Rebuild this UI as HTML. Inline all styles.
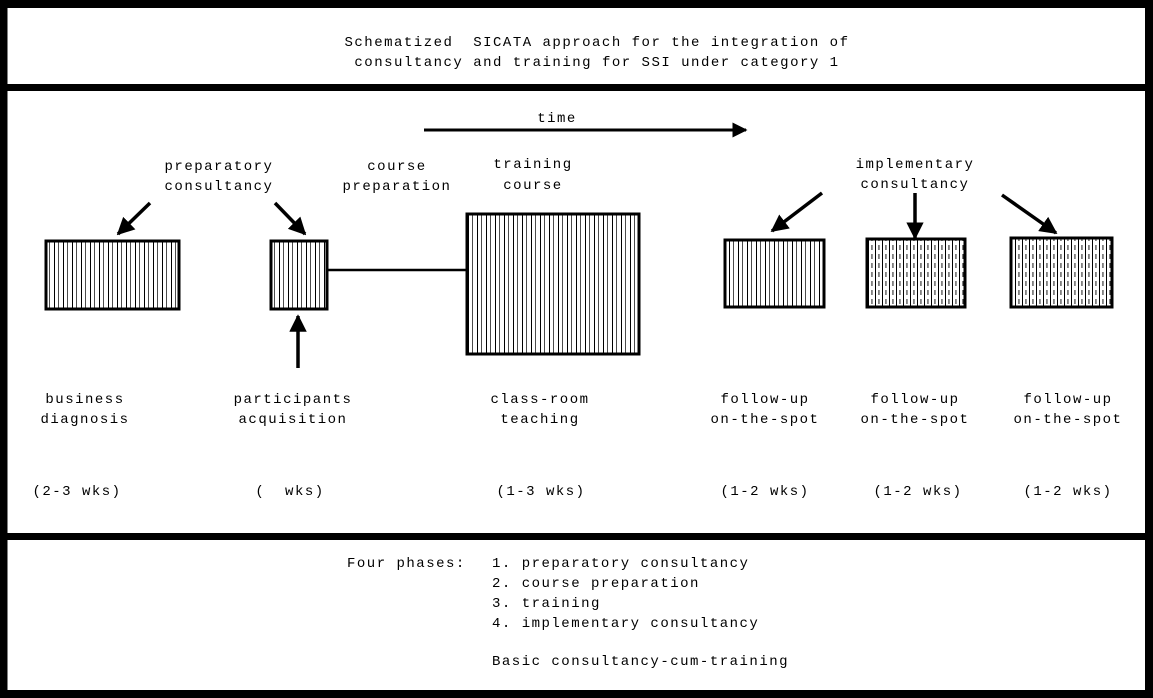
<!DOCTYPE html>
<html><head><style>
html,body{margin:0;padding:0;background:#fff}
svg{display:block}
text{font-family:"Liberation Mono",monospace;font-size:14px;letter-spacing:1.5px;fill:#000;white-space:pre}
</style></head><body>
<svg width="1153" height="698" viewBox="0 0 1153 698">
<defs>
<pattern id="v" width="9" height="10" patternUnits="userSpaceOnUse">
<rect width="9" height="10" fill="#fff"/>
<rect x="0" width="1" height="10" fill="#000"/>
<rect x="4" width="0.7" height="10" fill="#000"/>
</pattern>
<pattern id="d" width="7" height="9" patternUnits="userSpaceOnUse">
<rect width="7" height="9" fill="#fff"/>
<rect x="0" width="1" height="9" fill="#000"/>
<rect x="3.5" y="2" width="0.9" height="5" fill="#000"/>
</pattern>
<marker id="a" viewBox="0 0 10 10" refX="9" refY="5" markerWidth="5" markerHeight="5" orient="auto">
<path d="M0,0 L10,5 L0,10 z" fill="#000"/>
</marker>
</defs>
<rect x="3.5" y="4" width="1145.5" height="690" fill="none" stroke="#000" stroke-width="8"/>
<rect x="0" y="84" width="1153" height="7" fill="#000"/>
<rect x="0" y="533" width="1153" height="7" fill="#000"/>

<text x="597" y="46" text-anchor="middle" xml:space="preserve">Schematized  SICATA approach for the integration of</text>
<text x="597" y="66" text-anchor="middle">consultancy and training for SSI under category 1</text>

<text x="557" y="122" text-anchor="middle">time</text>
<line x1="424" y1="130" x2="746" y2="130" stroke="#000" stroke-width="3" marker-end="url(#a)"/>

<text x="219" y="170" text-anchor="middle">preparatory</text>
<text x="219" y="190" text-anchor="middle">consultancy</text>
<text x="397" y="170" text-anchor="middle">course</text>
<text x="397" y="190" text-anchor="middle">preparation</text>
<text x="533" y="168" text-anchor="middle">training</text>
<text x="533" y="189" text-anchor="middle">course</text>
<text x="915" y="168" text-anchor="middle">implementary</text>
<text x="915" y="188" text-anchor="middle">consultancy</text>

<line x1="150" y1="203" x2="118" y2="234" stroke="#000" stroke-width="3.5" marker-end="url(#a)"/>
<line x1="275" y1="203" x2="305" y2="234" stroke="#000" stroke-width="3.5" marker-end="url(#a)"/>
<line x1="298" y1="368" x2="298" y2="316" stroke="#000" stroke-width="3.5" marker-end="url(#a)"/>
<line x1="822" y1="193" x2="772" y2="231" stroke="#000" stroke-width="3.5" marker-end="url(#a)"/>
<line x1="915" y1="193" x2="915" y2="238" stroke="#000" stroke-width="3.5" marker-end="url(#a)"/>
<line x1="1002" y1="195" x2="1056" y2="233" stroke="#000" stroke-width="3.5" marker-end="url(#a)"/>

<rect x="46" y="241" width="133" height="68" fill="url(#v)" stroke="#000" stroke-width="3"/>
<rect x="271" y="241" width="56" height="68" fill="url(#v)" stroke="#000" stroke-width="3"/>
<line x1="327" y1="270" x2="467" y2="270" stroke="#000" stroke-width="2.5"/>
<rect x="467" y="214" width="172" height="140" fill="url(#v)" stroke="#000" stroke-width="3"/>
<rect x="725" y="240" width="99" height="67" fill="url(#v)" stroke="#000" stroke-width="3"/>
<rect x="867" y="239" width="98" height="68" fill="url(#d)" stroke="#000" stroke-width="3"/>
<rect x="1011" y="238" width="101" height="69" fill="url(#d)" stroke="#000" stroke-width="3"/>

<text x="85" y="403" text-anchor="middle">business</text>
<text x="85" y="423" text-anchor="middle">diagnosis</text>
<text x="293" y="403" text-anchor="middle">participants</text>
<text x="293" y="423" text-anchor="middle">acquisition</text>
<text x="540" y="403" text-anchor="middle">class-room</text>
<text x="540" y="423" text-anchor="middle">teaching</text>
<text x="765" y="403" text-anchor="middle">follow-up</text>
<text x="765" y="423" text-anchor="middle">on-the-spot</text>
<text x="915" y="403" text-anchor="middle">follow-up</text>
<text x="915" y="423" text-anchor="middle">on-the-spot</text>
<text x="1068" y="403" text-anchor="middle">follow-up</text>
<text x="1068" y="423" text-anchor="middle">on-the-spot</text>

<text x="77" y="495" text-anchor="middle">(2-3 wks)</text>
<text x="290" y="495" text-anchor="middle" xml:space="preserve">(  wks)</text>
<text x="541" y="495" text-anchor="middle">(1-3 wks)</text>
<text x="765" y="495" text-anchor="middle">(1-2 wks)</text>
<text x="918" y="495" text-anchor="middle">(1-2 wks)</text>
<text x="1068" y="495" text-anchor="middle">(1-2 wks)</text>

<text x="347" y="567">Four phases:</text>
<text x="492" y="567">1. preparatory consultancy</text>
<text x="492" y="587">2. course preparation</text>
<text x="492" y="607">3. training</text>
<text x="492" y="627">4. implementary consultancy</text>
<text x="492" y="665">Basic consultancy-cum-training</text>
</svg>
</body></html>
